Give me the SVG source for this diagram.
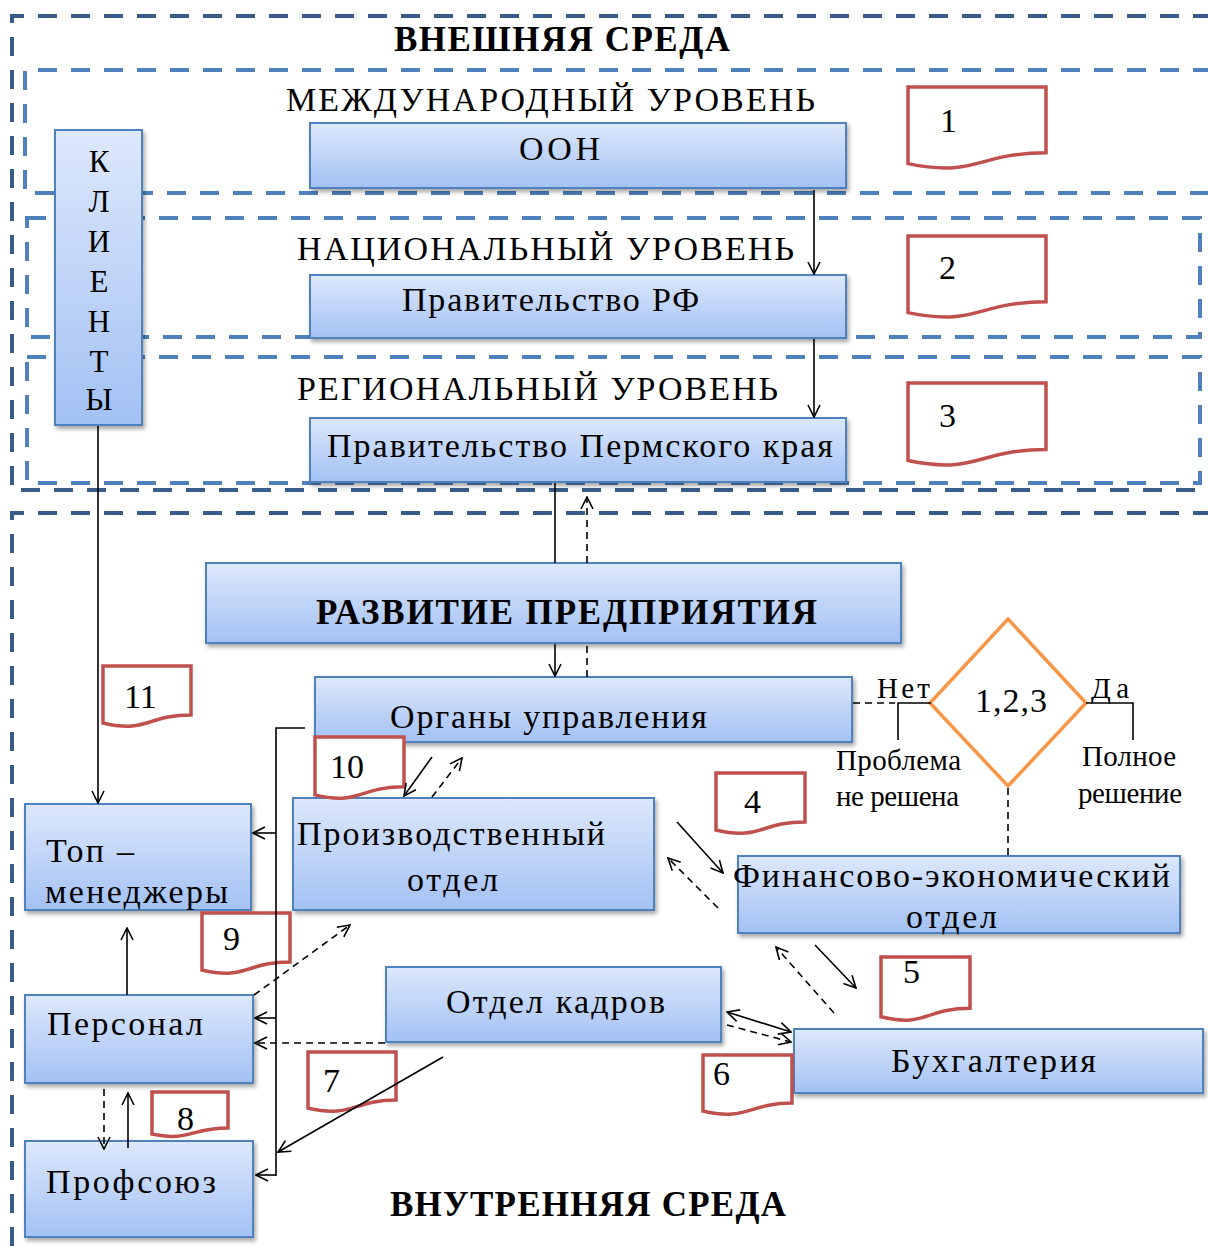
<svg xmlns="http://www.w3.org/2000/svg" width="1208" height="1250" viewBox="0 0 1208 1250">
<defs>
<linearGradient id="g" x1="0" y1="0" x2="0" y2="1">
<stop offset="0" stop-color="#DDE8FB"/>
<stop offset="1" stop-color="#A3C1F4"/>
</linearGradient>
<filter id="sh" x="-5%" y="-10%" width="115%" height="135%">
<feDropShadow dx="2" dy="3" stdDeviation="2" flood-color="#000" flood-opacity="0.35"/>
</filter>
<marker id="a" viewBox="0 0 14 14" refX="13" refY="7" markerWidth="14" markerHeight="14" markerUnits="userSpaceOnUse" orient="auto-start-reverse">
<path d="M1,1 L13,7 L1,13" fill="none" stroke="#000" stroke-width="1.6"/>
</marker>
<style>
.box{fill:url(#g);stroke:#4F81BD;stroke-width:2;filter:url(#sh)}
.doc{fill:#fff;stroke:#C0504D;stroke-width:3.5}
.t{font-family:"Liberation Serif","Times New Roman",serif;fill:#000;font-size:34px}
.b{font-weight:bold;font-size:35px}
.n{font-size:34px}
.s{font-size:29px}
.k{font-size:31px}
.c{fill:none;stroke:#000;stroke-width:1.6}
.d{stroke-dasharray:7 5}
.zo{fill:none;stroke:#385D8A;stroke-width:4;stroke-dasharray:19 14}
.zi{fill:none;stroke:#4F81BD;stroke-width:4;stroke-dasharray:19 14}
</style>
</defs>
<rect width="1208" height="1250" fill="#fff"/>

<g id="zones">
<path class="zo" d="M1212,16 H12 V490 H1212"/>
<path class="zi" d="M1212,70 H25 V193 H1212"/>
<rect class="zi" x="27" y="218" width="1173" height="119"/>
<rect class="zi" x="27" y="357" width="1173" height="126"/>
<path class="zo" d="M1212,513 H12 V1252"/>
</g>

<g id="labels">
<text class="t b" x="394" y="51" textLength="336" lengthAdjust="spacing">ВНЕШНЯЯ СРЕДА</text>
<text class="t" x="286" y="111" font-size="35" textLength="529" lengthAdjust="spacing">МЕЖДУНАРОДНЫЙ УРОВЕНЬ</text>
<text class="t" x="297" y="260" font-size="35" textLength="497" lengthAdjust="spacing">НАЦИОНАЛЬНЫЙ УРОВЕНЬ</text>
<text class="t" x="297" y="400" font-size="35" textLength="481" lengthAdjust="spacing">РЕГИОНАЛЬНЫЙ УРОВЕНЬ</text>
<text class="t b" x="390" y="1216" textLength="396" lengthAdjust="spacing">ВНУТРЕННЯЯ СРЕДА</text>
</g>

<g id="oon"><rect class="box" x="310" y="123" width="536" height="65"/>
<text class="t" x="519" y="160" textLength="81" lengthAdjust="spacing">ООН</text></g>

<g id="gov-rf"><rect class="box" x="310" y="275" width="536" height="63"/>
<text class="t" x="402" y="311" textLength="297" lengthAdjust="spacing">Правительство РФ</text></g>

<g id="gov-perm"><rect class="box" x="310" y="418" width="536" height="64"/>
<text class="t" x="327" y="457" textLength="506" lengthAdjust="spacing">Правительство Пермского края</text></g>

<g id="clients"><rect class="box" x="55" y="130" width="87" height="295"/>
<g class="t k" text-anchor="middle">
<text x="99" y="172">К</text>
<text x="99" y="212">Л</text>
<text x="99" y="252">И</text>
<text x="99" y="292">Е</text>
<text x="99" y="332">Н</text>
<text x="99" y="372">Т</text>
<text x="99" y="410">Ы</text>
</g></g>

<g id="razvitie"><rect class="box" x="206" y="563" width="695" height="80"/>
<text class="t b" x="316" y="624" textLength="501" lengthAdjust="spacing">РАЗВИТИЕ ПРЕДПРИЯТИЯ</text></g>

<g id="organy"><rect class="box" x="315" y="677" width="537" height="65"/>
<text class="t" x="390" y="728" textLength="317" lengthAdjust="spacing">Органы управления</text></g>

<g id="top"><rect class="box" x="25" y="804" width="226" height="106"/>
<text class="t" x="46" y="862" textLength="88" lengthAdjust="spacing">Топ –</text>
<text class="t" x="45" y="903" textLength="183" lengthAdjust="spacing">менеджеры</text></g>

<g id="personal"><rect class="box" x="25" y="995" width="228" height="88"/>
<text class="t" x="47" y="1035" textLength="156" lengthAdjust="spacing">Персонал</text></g>

<g id="profsoyuz"><rect class="box" x="25" y="1141" width="228" height="96"/>
<text class="t" x="46" y="1193" textLength="170" lengthAdjust="spacing">Профсоюз</text></g>

<g id="proizv"><rect class="box" x="293" y="798" width="361" height="112"/>
<text class="t" x="297" y="845" textLength="308" lengthAdjust="spacing">Производственный</text>
<text class="t" x="407" y="891" textLength="91" lengthAdjust="spacing">отдел</text></g>

<g id="fin"><rect class="box" x="738" y="856" width="442" height="77"/>
<text class="t" x="733" y="887" textLength="437" lengthAdjust="spacing">Финансово-экономический</text>
<text class="t" x="906" y="928" textLength="91" lengthAdjust="spacing">отдел</text></g>

<g id="kadry"><rect class="box" x="386" y="967" width="335" height="75"/>
<text class="t" x="446" y="1013" textLength="219" lengthAdjust="spacing">Отдел кадров</text></g>

<g id="buh"><rect class="box" x="794" y="1029" width="409" height="64"/>
<text class="t" x="891" y="1072" textLength="205" lengthAdjust="spacing">Бухгалтерия</text></g>

<g id="decision"><polygon points="1008,619 1086,703 1008,786 930,703" fill="#fff" stroke="#F79646" stroke-width="3.5"/>
<text class="t" x="975" y="712" textLength="72" lengthAdjust="spacing">1,2,3</text></g>

<g id="decision-labels" class="t s">
<text x="877" y="698" textLength="53" lengthAdjust="spacing">Нет</text>
<text x="1091" y="698" textLength="38" lengthAdjust="spacing">Да</text>
<text x="836" y="770" textLength="125" lengthAdjust="spacing">Проблема</text>
<text x="836" y="806" textLength="123" lengthAdjust="spacing">не решена</text>
<text x="1082" y="766" textLength="94" lengthAdjust="spacing">Полное</text>
<text x="1078" y="803" textLength="104" lengthAdjust="spacing">решение</text>
</g>

<g id="docs">
<g id="doc1"><path class="doc" d="M908,87 H1046 V152.8 C977,152.8 977,177.8 908,163.6 Z"/><text class="t n" x="940" y="132">1</text></g>
<g id="doc2"><path class="doc" d="M908,236 H1046 V301.8 C977,301.8 977,326.8 908,312.6 Z"/><text class="t n" x="939" y="279">2</text></g>
<g id="doc3"><path class="doc" d="M908,383 H1046 V449.6 C977,449.6 977,474.9 908,460.5 Z"/><text class="t n" x="939" y="427">3</text></g>
<g id="doc4"><path class="doc" d="M716,773 H805 V821.9 C760.5,821.9 760.5,840.6 716,830 Z"/><text class="t n" x="744" y="813">4</text></g>
<g id="doc5"><path class="doc" d="M881,957 H970 V1008.3 C925.5,1008.3 925.5,1027.9 881,1016.8 Z"/><text class="t n" x="903" y="983">5</text></g>
<g id="doc6"><path class="doc" d="M703,1055 H792 V1103.1 C747.5,1103.1 747.5,1121.5 703,1111 Z"/><text class="t n" x="713" y="1085">6</text></g>
<g id="doc7"><path class="doc" d="M308,1052 H396 V1100.1 C352,1100.1 352,1118.5 308,1108 Z"/><text class="t n" x="323" y="1092">7</text></g>
<g id="doc8"><path class="doc" d="M152,1092 H228 V1128.1 C190,1128.1 190,1141.8 152,1134 Z"/><text class="t n" x="177" y="1130">8</text></g>
<g id="doc9"><path class="doc" d="M202,913 H290 V961.9 C246,961.9 246,980.6 202,970 Z"/><text class="t n" x="223" y="950">9</text></g>
<g id="doc10"><path class="doc" d="M315,737 H404 V786.7 C359.5,786.7 359.5,805.7 315,794.9 Z"/><text class="t n" x="330" y="778">10</text></g>
<g id="doc11"><path class="doc" d="M103,666 H191 V714.9 C147,714.9 147,733.6 103,723 Z"/><text class="t n" x="124" y="708">11</text></g>
</g>

<g id="connectors">
<line class="c" x1="814" y1="190" x2="814" y2="274" marker-end="url(#a)"/>
<line class="c" x1="814" y1="339" x2="814" y2="417" marker-end="url(#a)"/>
<line class="c" x1="555" y1="483" x2="555" y2="563"/>
<line class="c d" x1="587" y1="563" x2="587" y2="497" marker-end="url(#a)"/>
<line class="c d" x1="587" y1="677" x2="587" y2="644"/>
<line class="c" x1="555" y1="644" x2="555" y2="676" marker-end="url(#a)"/>
<line class="c" x1="98" y1="426" x2="98" y2="803" marker-end="url(#a)"/>
<polyline class="c" points="305,728 276,728 276,1176"/>
<line class="c" x1="276" y1="833" x2="253" y2="833" marker-end="url(#a)"/>
<line class="c" x1="276" y1="1018" x2="255" y2="1018" marker-end="url(#a)"/>
<line class="c" x1="276" y1="1175" x2="256" y2="1175" marker-end="url(#a)"/>
<line class="c" x1="432" y1="757" x2="404" y2="796" marker-end="url(#a)"/>
<line class="c d" x1="432" y1="797" x2="462" y2="758" marker-end="url(#a)"/>
<line class="c" x1="677" y1="822" x2="723" y2="873" marker-end="url(#a)"/>
<line class="c d" x1="718" y1="908" x2="668" y2="858" marker-end="url(#a)"/>
<line class="c" x1="815" y1="945" x2="856" y2="988" marker-end="url(#a)"/>
<line class="c d" x1="834" y1="1013" x2="776" y2="947" marker-end="url(#a)"/>
<line class="c" x1="727" y1="1012" x2="791" y2="1032" marker-start="url(#a)" marker-end="url(#a)"/>
<line class="c d" x1="727" y1="1025" x2="791" y2="1042" marker-end="url(#a)"/>
<line class="c d" x1="385" y1="1043" x2="255" y2="1043" marker-end="url(#a)"/>
<line class="c" x1="443" y1="1057" x2="278" y2="1152" marker-end="url(#a)"/>
<line class="c d" x1="254" y1="995" x2="350" y2="925" marker-end="url(#a)"/>
<line class="c" x1="127" y1="995" x2="127" y2="928" marker-end="url(#a)"/>
<line class="c d" x1="104" y1="1089" x2="104" y2="1149" marker-end="url(#a)"/>
<line class="c" x1="128" y1="1148" x2="128" y2="1093" marker-end="url(#a)"/>
<line class="c d" x1="853" y1="703" x2="895" y2="703"/>
<polyline class="c" points="898,740 898,703 931,703"/>
<polyline class="c" points="1086,703 1133,703 1133,740"/>
<line class="c d" x1="1008" y1="788" x2="1008" y2="856"/>
</g>
</svg>
